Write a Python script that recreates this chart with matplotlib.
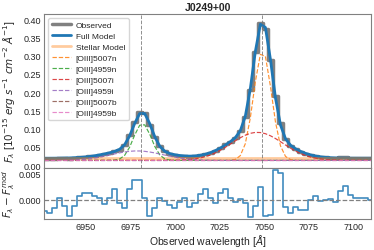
import numpy as np
import matplotlib.pyplot as plt
import seaborn as sns

sns.set_style('white')
plt.rcParams['font.family'] = ['Liberation Sans', 'DejaVu Sans']

z = 0.4078
wave = 6926.5 + 2.823 * np.arange(66)

# residuals (obs - model)
resid = [-0.0022, -0.0026, -0.0015, 0.0003, -0.0011, -0.0031, -0.0011, 0.0007,
         0.0014, 0.0014, 0.0007, 0.0003, -0.0008, 0.0003, 0.0020, -0.0006,
         -0.0015, 0.0020, 0.0039, 0.0039, 0.0003, -0.0031, -0.0015, 0.0004,
         -0.0002, -0.0010, -0.0016, -0.0004, 0.0004, -0.0014, -0.0007, 0.0011,
         0.0021, 0.0004, -0.0006, 0.0013, 0.0021, 0.0003, -0.0004, 0.0001,
         -0.0007, -0.0034, -0.0011, 0.0024, -0.0031, -0.0029, 0.0057, 0.0051,
         -0.0014, -0.0026, -0.0013, -0.0019, -0.0019, 0.0000, 0.0007, -0.0002,
         -0.0001, 0.0001, -0.0004, 0.0017, 0.0027, 0.0009, 0.0003, 0.0003,
         0.0003, -0.0001]

stellar_level = 0.019
comp_offset = 0.013

names = ['[OIII]5007n', '[OIII]4959n', '[OIII]5007i', '[OIII]4959i', '[OIII]5007b', '[OIII]4959b']
rest = [5006.84, 4958.91, 5006.84, 4958.91, 5006.84, 4958.91]
shift = [0.5, 0.5, -2.5, -2.5, 0.0, 0.0]
sigma = [5.0, 5.0, 14.5, 14.5, 30.0, 30.0]
amp = [0.300, 0.101, 0.077, 0.026, 0.0, 0.0]

comps = []
for r, s, sg, a in zip(rest, shift, sigma, amp):
    c = r * (1 + z) + s
    comps.append(a * np.exp(-(wave - c) ** 2 / (2 * sg ** 2)))

stellar = np.full_like(wave, stellar_level)
full = stellar + np.sum(comps, axis=0)
obs = full + np.array(resid)

fig, (ax1, ax2) = plt.subplots(2, 1, figsize=(3.74, 2.51), dpi=100, sharex=True,
                               gridspec_kw={'height_ratios': [3, 1], 'hspace': 0})
fig.subplots_adjust(left=0.118, right=0.992, top=0.941, bottom=0.1235)

ax1.plot(wave, obs, drawstyle='steps-mid', color='gray', lw=2.5, label='Observed')
ax1.plot(wave, full, color='C0', lw=2, label='Full Model')
ax1.plot(wave, stellar, color='C1', alpha=0.4, lw=2, label='Stellar Model')
for i, (name, comp) in enumerate(zip(names, comps)):
    ax1.plot(wave, comp + comp_offset, ls='--', lw=0.85, alpha=0.85, color=f'C{i + 1}', label=name)
for r in [4958.91, 5006.84]:
    ax1.axvline(r * (1 + z), color='0.45', ls='--', lw=0.7, alpha=0.8)

ax1.set_xlim(wave[0], wave[-1])
ax1.set_ylim(-0.007, 0.415)
ax1.set_yticks(np.arange(0, 0.41, 0.05))
ax1.set_ylabel(r'$F_\lambda$ [$10^{-15}$ $erg\ s^{-1}\ cm^{-2}\ \AA^{-1}$]', fontsize=7.5, labelpad=1)
ax1.set_title('J0249+00', fontsize=7.5, fontweight='bold', pad=3)
ax1.legend(loc='upper left', fontsize=6.0, labelspacing=0.38, handlelength=2.3,
           borderpad=0.4, handletextpad=0.6)

ax2.plot(wave, resid, drawstyle='steps-mid', color='C0', lw=1.2, alpha=0.85)
ax2.axhline(0, color='gray', ls='--', lw=0.9)
ax2.set_ylim(-0.0037, 0.0062)
ax2.set_yticks([0, 0.005])
ax2.yaxis.set_major_formatter(plt.FormatStrFormatter('%.3f'))
ax2.set_xticks([6950, 6975, 7000, 7025, 7050, 7075, 7100])
ax2.set_ylabel(r'$F_\lambda - F_\lambda^{mod}$', fontsize=7.5, labelpad=1)
ax2.set_xlabel(r'Observed wavelength [$\AA$]', fontsize=7.5, labelpad=1)

for ax in (ax1, ax2):
    ax.tick_params(labelsize=6.5, length=0, pad=2)
    for sp in ax.spines.values():
        sp.set_color('0.5')

fig.align_ylabels([ax1, ax2])
plt.savefig('out.png', dpi=100)
